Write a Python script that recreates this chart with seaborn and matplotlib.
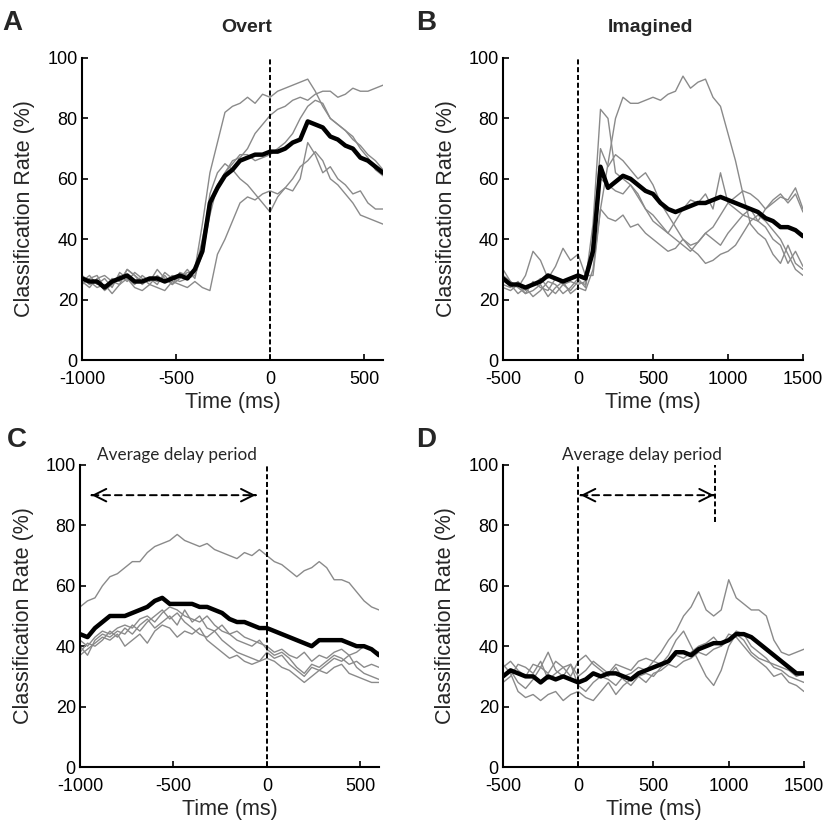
import numpy as np
import pandas as pd
import seaborn as sns
import matplotlib.pyplot as plt

# time grids (ms)
t_overt = np.arange(-1000, 601, 40)
t_imag = np.arange(-500, 1501, 50)

# panel A - overt, movement onset aligned
a_mean = [27, 26, 26, 24, 26, 27, 28, 26, 26, 27, 27, 26, 27, 28, 27,
          30, 36, 52, 57, 61, 63, 66, 67, 68, 68, 69, 69, 70, 72, 73, 79,
          78, 77, 74, 73, 71, 70, 67, 66, 64, 62]
a_subj = [
    [26, 28, 25, 27, 24, 29, 27, 25, 28, 26, 30, 27, 25, 29, 28,
     30, 45, 62, 72, 82, 84, 85, 87, 85, 88, 87, 89, 90, 91, 92, 93,
     89, 84, 80, 78, 76, 73, 71, 68, 66, 63],
    [25, 27, 28, 24, 27, 26, 30, 28, 26, 27, 25, 29, 27, 26, 27,
     28, 35, 48, 58, 62, 66, 67, 70, 75, 78, 81, 83, 84, 86, 87, 86,
     88, 89, 89, 87, 88, 90, 89, 89, 90, 91],
    [27, 25, 26, 23, 25, 28, 26, 29, 27, 25, 28, 26, 28, 27, 30,
     27, 38, 55, 62, 65, 63, 60, 58, 55, 52, 49, 54, 57, 56, 60, 72,
     68, 62, 64, 60, 58, 55, 56, 52, 50, 50],
    [28, 26, 24, 25, 22, 25, 27, 24, 23, 25, 24, 23, 26, 25, 24,
     26, 24, 23, 35, 40, 46, 52, 54, 53, 55, 56, 55, 57, 60, 64, 66,
     69, 66, 60, 58, 55, 52, 48, 47, 46, 45],
    [26, 24, 27, 28, 26, 25, 30, 28, 25, 27, 26, 28, 25, 27, 29,
     29, 40, 52, 58, 62, 65, 68, 68, 66, 67, 68, 70, 72, 75, 80, 84,
     86, 85, 80, 78, 76, 74, 70, 67, 63, 61],
]

# panel B - imagined, cue aligned
b_mean = [27, 25, 25, 24, 25, 26, 28, 27, 26, 27, 28, 27, 36, 64, 57, 59,
          61, 60, 58, 56, 55, 52, 50, 49, 50, 51, 52, 52, 53, 54, 53, 52,
          51, 50, 49, 47, 46, 44, 44, 43, 41]
b_subj = [
    [30, 26, 24, 28, 36, 33, 27, 31, 37, 33, 35, 28, 28, 50, 65, 80,
     87, 85, 85, 86, 87, 86, 88, 89, 94, 90, 92, 93, 87, 84, 75, 66,
     55, 45, 42, 40, 35, 32, 38, 32, 30],
    [24, 23, 25, 22, 26, 24, 23, 27, 25, 26, 25, 26, 45, 83, 80, 62,
     60, 58, 55, 50, 48, 45, 42, 40, 38, 36, 39, 42, 44, 48, 52, 54,
     56, 55, 53, 50, 52, 54, 53, 57, 50],
    [27, 25, 22, 24, 21, 23, 26, 25, 22, 24, 27, 24, 40, 70, 64, 68,
     66, 63, 60, 62, 58, 52, 48, 44, 40, 37, 35, 32, 33, 35, 36, 38,
     42, 46, 48, 46, 43, 40, 35, 30, 28],
    [25, 24, 26, 23, 25, 27, 24, 22, 25, 23, 26, 25, 35, 60, 58, 56,
     55, 58, 54, 50, 46, 44, 42, 46, 50, 53, 52, 55, 50, 62, 52, 50,
     48, 50, 46, 44, 40, 38, 32, 36, 31],
    [28, 26, 24, 22, 23, 25, 21, 24, 26, 22, 24, 23, 30, 50, 47, 46,
     48, 44, 45, 42, 40, 38, 36, 37, 40, 38, 39, 42, 40, 38, 42, 45,
     48, 47, 46, 50, 53, 55, 52, 55, 49],
]

# panel C - overt, delay period
c_mean = [44, 43, 46, 48, 50, 50, 50, 51, 52, 53, 55, 56, 54, 54, 54,
          54, 53, 53, 52, 51, 49, 48, 48, 47, 46, 46, 45, 44, 43, 42, 41,
          40, 42, 42, 42, 42, 41, 40, 40, 39, 37]
c_subj = [
    [53, 55, 56, 60, 63, 64, 66, 68, 68, 71, 73, 74, 75, 77, 75, 74,
     73, 74, 72, 71, 70, 69, 71, 70, 72, 70, 68, 67, 65, 63, 65, 66,
     68, 66, 62, 62, 61, 58, 55, 53, 52],
    [42, 40, 43, 45, 44, 46, 47, 46, 49, 50, 48, 51, 53, 52, 50, 49,
     48, 50, 47, 45, 44, 45, 43, 42, 41, 40, 38, 39, 37, 36, 38, 35,
     37, 36, 38, 39, 37, 38, 40, 39, 38],
    [38, 41, 40, 42, 45, 43, 46, 44, 47, 49, 46, 48, 50, 47, 52, 48,
     50, 46, 45, 47, 44, 42, 41, 40, 42, 39, 37, 38, 36, 33, 31, 34,
     33, 35, 37, 36, 34, 35, 33, 34, 33],
    [40, 37, 42, 44, 43, 45, 44, 47, 45, 48, 50, 52, 49, 51, 48, 46,
     44, 43, 45, 42, 40, 38, 37, 36, 35, 38, 36, 37, 34, 32, 30, 33,
     32, 34, 36, 35, 37, 33, 31, 30, 29],
    [37, 39, 41, 43, 42, 44, 40, 42, 44, 41, 45, 47, 46, 43, 45, 44,
     46, 42, 40, 38, 36, 37, 35, 34, 35, 36, 35, 33, 32, 30, 28, 30,
     32, 31, 33, 34, 31, 30, 29, 28, 28],
]

# panel D - imagined, delay period
d_mean = [30, 32, 31, 30, 30, 28, 30, 29, 30, 29, 28, 29, 31, 30, 31, 31,
          30, 29, 31, 32, 33, 34, 35, 38, 38, 37, 39, 40, 41, 41, 42, 44,
          44, 43, 41, 39, 37, 35, 33, 31, 31]
d_subj = [
    [33, 35, 32, 30, 34, 33, 31, 35, 33, 34, 30, 32, 35, 33, 31, 34,
     33, 32, 35, 36, 35, 38, 42, 45, 50, 53, 58, 52, 50, 52, 62, 56,
     54, 52, 52, 50, 42, 38, 37, 38, 39],
    [30, 32, 28, 26, 29, 33, 38, 32, 30, 34, 27, 25, 28, 30, 29, 27,
     30, 31, 33, 32, 35, 34, 37, 42, 45, 40, 35, 30, 27, 32, 40, 44,
     42, 38, 36, 35, 34, 33, 32, 30, 31],
    [34, 31, 25, 23, 24, 22, 24, 25, 22, 24, 25, 23, 22, 25, 28, 24,
     27, 29, 30, 31, 30, 33, 35, 37, 36, 38, 40, 41, 43, 40, 44, 43,
     40, 37, 35, 33, 30, 31, 28, 27, 25],
    [28, 30, 34, 33, 31, 35, 29, 31, 33, 30, 35, 37, 34, 32, 30, 33,
     29, 27, 30, 28, 31, 32, 34, 33, 35, 36, 38, 37, 39, 40, 42, 45,
     44, 40, 38, 36, 33, 32, 30, 29, 28],
]

sns.set_style("ticks")
plt.rcParams['font.family'] = ['Liberation Sans', 'DejaVu Sans']
plt.rcParams['axes.unicode_minus'] = False

fig = plt.figure(figsize=(8.25, 8.25), dpi=100)


def draw_panel(rect, t, subj, mean, xlim, xticks):
    ax = fig.add_axes(rect)
    for s in subj:
        sns.lineplot(x=t, y=s, ax=ax, color="#8a8a8a", lw=1.0)
    ax.axvline(0, color="black", lw=1.4, ls="--", dashes=(2.6, 1.4))
    sns.lineplot(x=t, y=mean, ax=ax, color="black", lw=3.2)
    ax.set_xlim(xlim)
    ax.set_ylim(0, 100)
    ax.set_xticks(xticks)
    ax.set_yticks([0, 20, 40, 60, 80, 100])
    ax.tick_params(direction="in", length=4, width=1.2, labelsize=13,
                   colors="black")
    ax.tick_params(axis="y", pad=3)
    ax.tick_params(axis="x", pad=8)
    for sp in ["left", "bottom"]:
        ax.spines[sp].set_linewidth(1.5)
        ax.spines[sp].set_color("black")
    sns.despine(ax=ax)
    ax.set_xlabel("Time (ms)", fontsize=15.5)
    ax.set_ylabel("Classification Rate (%)", fontsize=15.5)
    ax.yaxis.set_label_coords(-0.155, 0.5)
    ax.xaxis.set_label_coords(0.5, -0.105)
    return ax


ax_a = draw_panel([0.0994, 0.5636, 0.3648, 0.3661], t_overt, a_subj, a_mean,
                  (-1000, 600), [-1000, -500, 0, 500])
ax_b = draw_panel([0.6097, 0.5636, 0.3636, 0.3661], t_imag, b_subj, b_mean,
                  (-500, 1500), [-500, 0, 500, 1000, 1500])
ax_c = draw_panel([0.0970, 0.0703, 0.3624, 0.3661], t_overt, c_subj, c_mean,
                  (-1000, 600), [-1000, -500, 0, 500])
ax_d = draw_panel([0.6097, 0.0703, 0.3648, 0.3661], t_imag, d_subj, d_mean,
                  (-500, 1500), [-500, 0, 500, 1000, 1500])


def delay_arrow(ax, x0, x1, y, label, xtext):
    ax.annotate("", xy=(x1, y), xytext=(x0, y),
                arrowprops=dict(arrowstyle="-", lw=1.4, ls=(0, (3.5, 2.5)),
                                color="black", shrinkA=0, shrinkB=0),
                annotation_clip=False)
    head = dict(arrowstyle="->,head_length=0.9,head_width=0.45", lw=1.4,
                color="black", shrinkA=0, shrinkB=0)
    ax.annotate("", xy=(x1, y), xytext=(x1 - 1, y), arrowprops=head,
                annotation_clip=False)
    ax.annotate("", xy=(x0, y), xytext=(x0 + 1, y), arrowprops=head,
                annotation_clip=False)
    ax.text(xtext, 101.6, label, ha="center", va="baseline", fontsize=12.3,
            family=["Lato", "DejaVu Sans"], clip_on=False)


delay_arrow(ax_c, -938, -60, 90, "Average delay period", -480)
delay_arrow(ax_d, 16, 902, 90, "Average delay period", 426)
ax_d.axvline(910, ymin=0.81, ymax=1.0, color="black", lw=1.4, ls="--",
             dashes=(2.6, 1.4))

# panel titles and letters
fig.text(0.2994, 0.9616, "Overt", ha="center", va="baseline",
         fontsize=14, fontweight="bold")
fig.text(0.789, 0.9616, "Imagined", ha="center", va="baseline",
         fontsize=14, fontweight="bold")
for lx, ly, letter in [(0.003, 0.9636, "A"), (0.505, 0.9636, "B"),
                       (0.008, 0.458, "C"), (0.505, 0.458, "D")]:
    fig.text(lx, ly, letter, ha="left", va="baseline", fontsize=20,
             fontweight="bold")

fig.savefig("out.png", dpi=100, facecolor="white")
